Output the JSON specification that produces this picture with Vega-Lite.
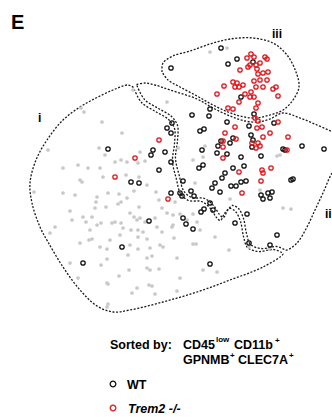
{
  "$schema": "https://vega.github.io/schema/vega-lite/v6.json",
  "width": 332,
  "height": 417,
  "autosize": {"type": "fit", "contains": "padding"},
  "padding": 0,
  "background": "white",
  "config": {"view": {"stroke": null}, "text": {"font": "Liberation Sans"}},
  "datasets": {
    "outlines": [
      {"r":"i","o":0,"x":133.5,"y":87.5},{"r":"i","o":1,"x":128,"y":85},{"r":"i","o":2,"x":113,"y":90},{"r":"i","o":3,"x":96,"y":98},{"r":"i","o":4,"x":80,"y":107},{"r":"i","o":5,"x":63,"y":120},{"r":"i","o":6,"x":47,"y":140},{"r":"i","o":7,"x":36,"y":160},{"r":"i","o":8,"x":30,"y":183},{"r":"i","o":9,"x":32,"y":203},{"r":"i","o":10,"x":40,"y":227},{"r":"i","o":11,"x":48,"y":242},{"r":"i","o":12,"x":63,"y":267},{"r":"i","o":13,"x":80,"y":290},{"r":"i","o":14,"x":97,"y":306},{"r":"i","o":15,"x":113,"y":312},{"r":"i","o":16,"x":130,"y":310},{"r":"i","o":17,"x":163,"y":302},{"r":"i","o":18,"x":197,"y":292},{"r":"i","o":19,"x":230,"y":280},{"r":"i","o":20,"x":263,"y":267},{"r":"i","o":21,"x":283,"y":254},{"r":"i","o":22,"x":281.5,"y":252.5},{"r":"i","o":23,"x":273.5,"y":249.5},{"r":"i","o":24,"x":258.5,"y":251.5},{"r":"i","o":25,"x":247.5,"y":247.5},{"r":"i","o":26,"x":243.5,"y":236.5},{"r":"i","o":27,"x":240.5,"y":221.5},{"r":"i","o":28,"x":235.5,"y":211.5},{"r":"i","o":29,"x":229.5,"y":208.5},{"r":"i","o":30,"x":224.5,"y":213.5},{"r":"i","o":31,"x":220.5,"y":220.5},{"r":"i","o":32,"x":216.5,"y":217.5},{"r":"i","o":33,"x":210.5,"y":208.5},{"r":"i","o":34,"x":201.5,"y":201.5},{"r":"i","o":35,"x":188.5,"y":200.5},{"r":"i","o":36,"x":180.5,"y":193.5},{"r":"i","o":37,"x":176.5,"y":179.5},{"r":"i","o":38,"x":172.5,"y":161.5},{"r":"i","o":39,"x":174.5,"y":143.5},{"r":"i","o":40,"x":174.5,"y":128.5},{"r":"i","o":41,"x":168.5,"y":119.5},{"r":"i","o":42,"x":155.5,"y":111.5},{"r":"i","o":43,"x":141.5,"y":102.5},{"r":"i","o":44,"x":133.5,"y":87.5},
      {"r":"ii","o":0,"x":136.5,"y":84.5},{"r":"ii","o":1,"x":145,"y":83},{"r":"ii","o":2,"x":155,"y":85},{"r":"ii","o":3,"x":170,"y":90},{"r":"ii","o":4,"x":197,"y":99},{"r":"ii","o":5,"x":213,"y":108},{"r":"ii","o":6,"x":230,"y":116},{"r":"ii","o":7,"x":245,"y":121},{"r":"ii","o":8,"x":258,"y":122},{"r":"ii","o":9,"x":270,"y":119},{"r":"ii","o":10,"x":283,"y":113},{"r":"ii","o":11,"x":300,"y":118},{"r":"ii","o":12,"x":317,"y":125},{"r":"ii","o":13,"x":333,"y":132},{"r":"ii","o":14,"x":345,"y":137},{"r":"ii","o":15,"x":350,"y":150},{"r":"ii","o":16,"x":340,"y":163},{"r":"ii","o":17,"x":332,"y":173},{"r":"ii","o":18,"x":323,"y":193},{"r":"ii","o":19,"x":315,"y":210},{"r":"ii","o":20,"x":307,"y":227},{"r":"ii","o":21,"x":297,"y":243},{"r":"ii","o":22,"x":287,"y":250},{"r":"ii","o":23,"x":284.5,"y":249.5},{"r":"ii","o":24,"x":276.5,"y":246.5},{"r":"ii","o":25,"x":261.5,"y":248.5},{"r":"ii","o":26,"x":250.5,"y":244.5},{"r":"ii","o":27,"x":246.5,"y":233.5},{"r":"ii","o":28,"x":243.5,"y":218.5},{"r":"ii","o":29,"x":238.5,"y":208.5},{"r":"ii","o":30,"x":232.5,"y":205.5},{"r":"ii","o":31,"x":227.5,"y":210.5},{"r":"ii","o":32,"x":223.5,"y":217.5},{"r":"ii","o":33,"x":219.5,"y":214.5},{"r":"ii","o":34,"x":213.5,"y":205.5},{"r":"ii","o":35,"x":204.5,"y":198.5},{"r":"ii","o":36,"x":191.5,"y":197.5},{"r":"ii","o":37,"x":183.5,"y":190.5},{"r":"ii","o":38,"x":179.5,"y":176.5},{"r":"ii","o":39,"x":175.5,"y":158.5},{"r":"ii","o":40,"x":177.5,"y":140.5},{"r":"ii","o":41,"x":177.5,"y":125.5},{"r":"ii","o":42,"x":171.5,"y":116.5},{"r":"ii","o":43,"x":158.5,"y":108.5},{"r":"ii","o":44,"x":144.5,"y":99.5},{"r":"ii","o":45,"x":136.5,"y":84.5},
      {"r":"iii","o":0,"x":162,"y":72},{"r":"iii","o":1,"x":163,"y":63},{"r":"iii","o":2,"x":173,"y":56},{"r":"iii","o":3,"x":190,"y":51},{"r":"iii","o":4,"x":210,"y":44},{"r":"iii","o":5,"x":230,"y":39},{"r":"iii","o":6,"x":253,"y":38},{"r":"iii","o":7,"x":273,"y":43},{"r":"iii","o":8,"x":287,"y":55},{"r":"iii","o":9,"x":296,"y":72},{"r":"iii","o":10,"x":299,"y":87},{"r":"iii","o":11,"x":293,"y":100},{"r":"iii","o":12,"x":283,"y":110},{"r":"iii","o":13,"x":270,"y":115},{"r":"iii","o":14,"x":255,"y":118},{"r":"iii","o":15,"x":240,"y":116},{"r":"iii","o":16,"x":228,"y":112},{"r":"iii","o":17,"x":213,"y":105},{"r":"iii","o":18,"x":197,"y":96},{"r":"iii","o":19,"x":180,"y":87},{"r":"iii","o":20,"x":168,"y":80},{"r":"iii","o":21,"x":162,"y":72}
    ],
    "gray": [
      {"x":210,"y":52},{"x":227,"y":48},{"x":133,"y":90},{"x":167,"y":102},{"x":81,"y":108},{"x":84,"y":112},{"x":102,"y":122},{"x":122,"y":133},{"x":48,"y":150},{"x":99,"y":148},{"x":178,"y":148},{"x":205,"y":146},{"x":140,"y":152},
      {"x":105,"y":155},{"x":121,"y":160},{"x":145,"y":161},{"x":193,"y":160},{"x":203,"y":157},{"x":280,"y":155},{"x":277,"y":156},{"x":63,"y":168},{"x":78,"y":165},{"x":88,"y":168},{"x":100,"y":168},{"x":115,"y":162},{"x":127,"y":162},{"x":138,"y":163},
      {"x":139,"y":177},{"x":126,"y":175},{"x":103,"y":177},{"x":80,"y":180},{"x":82,"y":182},{"x":34,"y":192},{"x":63,"y":193},{"x":75,"y":195},{"x":97,"y":197},{"x":108,"y":193},{"x":119,"y":194},{"x":127,"y":198},{"x":134,"y":191},{"x":147,"y":185},{"x":156,"y":192},{"x":159,"y":200},{"x":175,"y":202},{"x":195,"y":183},{"x":230,"y":199},{"x":260,"y":190},{"x":283,"y":208},{"x":291,"y":209},{"x":96,"y":202},{"x":95,"y":208},{"x":70,"y":211},{"x":83,"y":217},{"x":92,"y":217},{"x":106,"y":207},{"x":118,"y":204},{"x":121,"y":202},{"x":139,"y":207},{"x":162,"y":208},{"x":130,"y":213},{"x":134,"y":217},{"x":137,"y":220},{"x":140,"y":218},{"x":145,"y":222},{"x":155,"y":218},{"x":157,"y":227},{"x":167,"y":213},{"x":173,"y":215},{"x":180,"y":214},{"x":193,"y":214},{"x":187,"y":220},{"x":197,"y":222},{"x":200,"y":230},{"x":173,"y":225},{"x":172,"y":227},{"x":162,"y":232},{"x":143,"y":232},{"x":138,"y":230},{"x":131,"y":230},{"x":123,"y":228},{"x":115,"y":222},{"x":112,"y":223},{"x":121,"y":223},{"x":101,"y":223},{"x":97,"y":225},{"x":90,"y":230},{"x":86,"y":222},{"x":72,"y":220},{"x":55,"y":227},{"x":50,"y":233},{"x":80,"y":243},{"x":89,"y":240},{"x":92,"y":239},{"x":110,"y":240},{"x":120,"y":235},{"x":138,"y":237},{"x":147,"y":239},{"x":160,"y":245},{"x":163,"y":247},{"x":174,"y":238},{"x":193,"y":244},{"x":196,"y":244},{"x":215,"y":237},{"x":229,"y":250},{"x":249,"y":247},{"x":269,"y":249},{"x":100,"y":247},{"x":107,"y":249},{"x":130,"y":245},{"x":138,"y":249},{"x":150,"y":248},{"x":128,"y":255},{"x":147,"y":258},{"x":152,"y":256},{"x":177,"y":258},{"x":107,"y":259},{"x":101,"y":265},{"x":70,"y":263},{"x":119,"y":276},{"x":129,"y":270},{"x":147,"y":268},{"x":150,"y":270},{"x":159,"y":269},{"x":78,"y":278},{"x":107,"y":283},{"x":108,"y":284},{"x":132,"y":293},{"x":137,"y":288},{"x":149,"y":285},{"x":152,"y":286},{"x":180,"y":278},{"x":177,"y":291},{"x":155,"y":294},{"x":203,"y":270},{"x":217,"y":272},{"x":108,"y":304},{"x":107,"y":307}
    ],
    "cells": [
      {"g":"WT","x":221,"y":48},{"g":"WT","x":228,"y":64},{"g":"WT","x":237,"y":59},{"g":"WT","x":253,"y":62},{"g":"WT","x":171,"y":68},{"g":"WT","x":241,"y":97},{"g":"WT","x":210,"y":109},{"g":"WT","x":209,"y":116},{"g":"WT","x":192,"y":115},{"g":"WT","x":254,"y":114},{"g":"WT","x":227,"y":122},{"g":"WT","x":249,"y":126},{"g":"WT","x":167,"y":128},{"g":"WT","x":172,"y":123},{"g":"WT","x":171,"y":133},{"g":"WT","x":200,"y":131},{"g":"WT","x":204,"y":129},{"g":"WT","x":274,"y":123},{"g":"WT","x":218,"y":146},{"g":"WT","x":221,"y":141},{"g":"WT","x":230,"y":143},{"g":"WT","x":233,"y":138},{"g":"WT","x":251,"y":135},{"g":"WT","x":253,"y":140},{"g":"WT","x":252,"y":147},{"g":"WT","x":261,"y":156},{"g":"WT","x":241,"y":157},{"g":"WT","x":227,"y":154},{"g":"WT","x":217,"y":153},{"g":"WT","x":202,"y":150},{"g":"WT","x":153,"y":150},{"g":"WT","x":151,"y":155},{"g":"WT","x":165,"y":152},{"g":"WT","x":108,"y":149},{"g":"WT","x":283,"y":149},{"g":"WT","x":285,"y":150},{"g":"WT","x":302,"y":146},{"g":"WT","x":324,"y":149},{"g":"WT","x":233,"y":168},{"g":"WT","x":244,"y":166},{"g":"WT","x":203,"y":165},{"g":"WT","x":199,"y":168},{"g":"WT","x":171,"y":162},{"g":"WT","x":159,"y":170},{"g":"WT","x":131,"y":182},{"g":"WT","x":139,"y":183},{"g":"WT","x":183,"y":181},{"g":"WT","x":171,"y":193},{"g":"WT","x":180,"y":193},{"g":"WT","x":182,"y":196},{"g":"WT","x":191,"y":191},{"g":"WT","x":194,"y":196},{"g":"WT","x":225,"y":173},{"g":"WT","x":222,"y":178},{"g":"WT","x":215,"y":183},{"g":"WT","x":212,"y":188},{"g":"WT","x":220,"y":192},{"g":"WT","x":231,"y":186},{"g":"WT","x":236,"y":186},{"g":"WT","x":241,"y":182},{"g":"WT","x":246,"y":181},{"g":"WT","x":261,"y":195},{"g":"WT","x":263,"y":199},{"g":"WT","x":268,"y":193},{"g":"WT","x":272,"y":192},{"g":"WT","x":270,"y":198},{"g":"WT","x":291,"y":180},{"g":"WT","x":293,"y":179},{"g":"WT","x":210,"y":203},{"g":"WT","x":204,"y":209},{"g":"WT","x":201,"y":212},{"g":"WT","x":213,"y":210},{"g":"WT","x":247,"y":214},{"g":"WT","x":235,"y":223},{"g":"WT","x":183,"y":218},{"g":"WT","x":186,"y":224},{"g":"WT","x":193,"y":229},{"g":"WT","x":149,"y":221},{"g":"WT","x":122,"y":247},{"g":"WT","x":83,"y":263},{"g":"WT","x":210,"y":264},{"g":"WT","x":249,"y":243},{"g":"WT","x":270,"y":245},{"g":"WT","x":277,"y":235},
      {"g":"Trem2","x":247,"y":58},{"g":"Trem2","x":251,"y":54},{"g":"Trem2","x":254,"y":57},{"g":"Trem2","x":265,"y":57},{"g":"Trem2","x":267,"y":59},{"g":"Trem2","x":260,"y":63},{"g":"Trem2","x":256,"y":65},{"g":"Trem2","x":250,"y":65},{"g":"Trem2","x":248,"y":67},{"g":"Trem2","x":240,"y":70},{"g":"Trem2","x":257,"y":69},{"g":"Trem2","x":263,"y":73},{"g":"Trem2","x":268,"y":72},{"g":"Trem2","x":258,"y":74},{"g":"Trem2","x":233,"y":82},{"g":"Trem2","x":237,"y":83},{"g":"Trem2","x":235,"y":87},{"g":"Trem2","x":239,"y":87},{"g":"Trem2","x":243,"y":85},{"g":"Trem2","x":254,"y":81},{"g":"Trem2","x":260,"y":80},{"g":"Trem2","x":267,"y":80},{"g":"Trem2","x":224,"y":86},{"g":"Trem2","x":256,"y":87},{"g":"Trem2","x":263,"y":87},{"g":"Trem2","x":273,"y":89},{"g":"Trem2","x":276,"y":87},{"g":"Trem2","x":278,"y":96},{"g":"Trem2","x":251,"y":92},{"g":"Trem2","x":245,"y":94},{"g":"Trem2","x":250,"y":97},{"g":"Trem2","x":254,"y":97},{"g":"Trem2","x":239,"y":102},{"g":"Trem2","x":217,"y":94},{"g":"Trem2","x":258,"y":103},{"g":"Trem2","x":256,"y":108},{"g":"Trem2","x":228,"y":108},{"g":"Trem2","x":233,"y":109},{"g":"Trem2","x":255,"y":118},{"g":"Trem2","x":258,"y":121},{"g":"Trem2","x":278,"y":122},{"g":"Trem2","x":235,"y":127},{"g":"Trem2","x":257,"y":128},{"g":"Trem2","x":262,"y":127},{"g":"Trem2","x":270,"y":133},{"g":"Trem2","x":263,"y":137},{"g":"Trem2","x":288,"y":137},{"g":"Trem2","x":236,"y":139},{"g":"Trem2","x":225,"y":133},{"g":"Trem2","x":223,"y":141},{"g":"Trem2","x":223,"y":147},{"g":"Trem2","x":252,"y":143},{"g":"Trem2","x":258,"y":143},{"g":"Trem2","x":256,"y":148},{"g":"Trem2","x":260,"y":146},{"g":"Trem2","x":159,"y":140},{"g":"Trem2","x":135,"y":158},{"g":"Trem2","x":287,"y":150},{"g":"Trem2","x":262,"y":170},{"g":"Trem2","x":263,"y":173},{"g":"Trem2","x":271,"y":168},{"g":"Trem2","x":261,"y":181},{"g":"Trem2","x":239,"y":172},{"g":"Trem2","x":242,"y":193},{"g":"Trem2","x":115,"y":177},{"g":"Trem2","x":168,"y":199},{"g":"Trem2","x":223,"y":158}
    ],
    "keys": [
      {"g":"WT","x":113,"y":384},{"g":"Trem2","x":113,"y":408}
    ],
    "labels": [
      {"k":"big","t":"E","x":11,"y":29},
      {"k":"roman","t":"iii","x":272,"y":37.5},
      {"k":"roman","t":"i","x":38,"y":122},
      {"k":"roman","t":"ii","x":325,"y":218},
      {"k":"main","t":"Sorted by:","x":110,"y":349},
      {"k":"main","t":"CD45","x":183,"y":349},
      {"k":"sup","t":"low","x":216,"y":342},
      {"k":"main","t":"CD11b","x":234,"y":349},
      {"k":"sup","t":"+","x":275,"y":343},
      {"k":"main","t":"GPNMB","x":183,"y":364},
      {"k":"sup","t":"+","x":230,"y":358},
      {"k":"main","t":"CLEC7A","x":238,"y":364},
      {"k":"sup","t":"+","x":289,"y":358},
      {"k":"main","t":"WT","x":127,"y":389},
      {"k":"ital","t":"Trem2 -/-","x":128,"y":413}
    ]
  },
  "encoding": {
    "x": {"field": "x", "type": "quantitative", "scale": {"domain": [0, 332], "nice": false, "zero": false}, "axis": null},
    "y": {"field": "y", "type": "quantitative", "scale": {"domain": [0, 417], "nice": false, "zero": false, "reverse": true}, "axis": null}
  },
  "layer": [
    {
      "data": {"name": "outlines"},
      "mark": {"type": "line", "clip": true, "color": "#1a1a1a", "strokeWidth": 1.3, "strokeDash": [2, 1.6], "interpolate": "catmull-rom"},
      "encoding": {"detail": {"field": "r"}, "order": {"field": "o", "type": "quantitative"}}
    },
    {
      "data": {"name": "gray"},
      "mark": {"type": "circle", "color": "#c8c8c8", "size": 14, "opacity": 1}
    },
    {
      "data": {"name": "cells"},
      "mark": {"type": "point", "shape": "circle", "filled": false, "size": 19, "strokeWidth": 1.3, "opacity": 1},
      "encoding": {"color": {"field": "g", "type": "nominal", "scale": {"domain": ["WT", "Trem2"], "range": ["#111111", "#e3161c"]}, "legend": null}}
    },
    {
      "data": {"name": "keys"},
      "mark": {"type": "point", "shape": "circle", "filled": false, "size": 32, "strokeWidth": 1.3, "opacity": 1},
      "encoding": {"color": {"field": "g", "type": "nominal", "scale": {"domain": ["WT", "Trem2"], "range": ["#111111", "#e3161c"]}, "legend": null}}
    },
    {
      "data": {"name": "labels"},
      "transform": [{"filter": "datum.k == 'big'"}],
      "mark": {"type": "text", "align": "left", "baseline": "alphabetic", "fontSize": 20, "fontWeight": "bold", "color": "#000"},
      "encoding": {"text": {"field": "t"}}
    },
    {
      "data": {"name": "labels"},
      "transform": [{"filter": "datum.k == 'roman'"}],
      "mark": {"type": "text", "align": "left", "baseline": "alphabetic", "fontSize": 12, "fontWeight": "bold", "color": "#000", "clip": true},
      "encoding": {"text": {"field": "t"}}
    },
    {
      "data": {"name": "labels"},
      "transform": [{"filter": "datum.k == 'main'"}],
      "mark": {"type": "text", "align": "left", "baseline": "alphabetic", "fontSize": 12.5, "fontWeight": "bold", "color": "#000"},
      "encoding": {"text": {"field": "t"}}
    },
    {
      "data": {"name": "labels"},
      "transform": [{"filter": "datum.k == 'sup'"}],
      "mark": {"type": "text", "align": "left", "baseline": "alphabetic", "fontSize": 8, "fontWeight": "bold", "color": "#000"},
      "encoding": {"text": {"field": "t"}}
    },
    {
      "data": {"name": "labels"},
      "transform": [{"filter": "datum.k == 'ital'"}],
      "mark": {"type": "text", "align": "left", "baseline": "alphabetic", "fontSize": 12.5, "fontWeight": "bold", "fontStyle": "italic", "color": "#000"},
      "encoding": {"text": {"field": "t"}}
    }
  ]
}
